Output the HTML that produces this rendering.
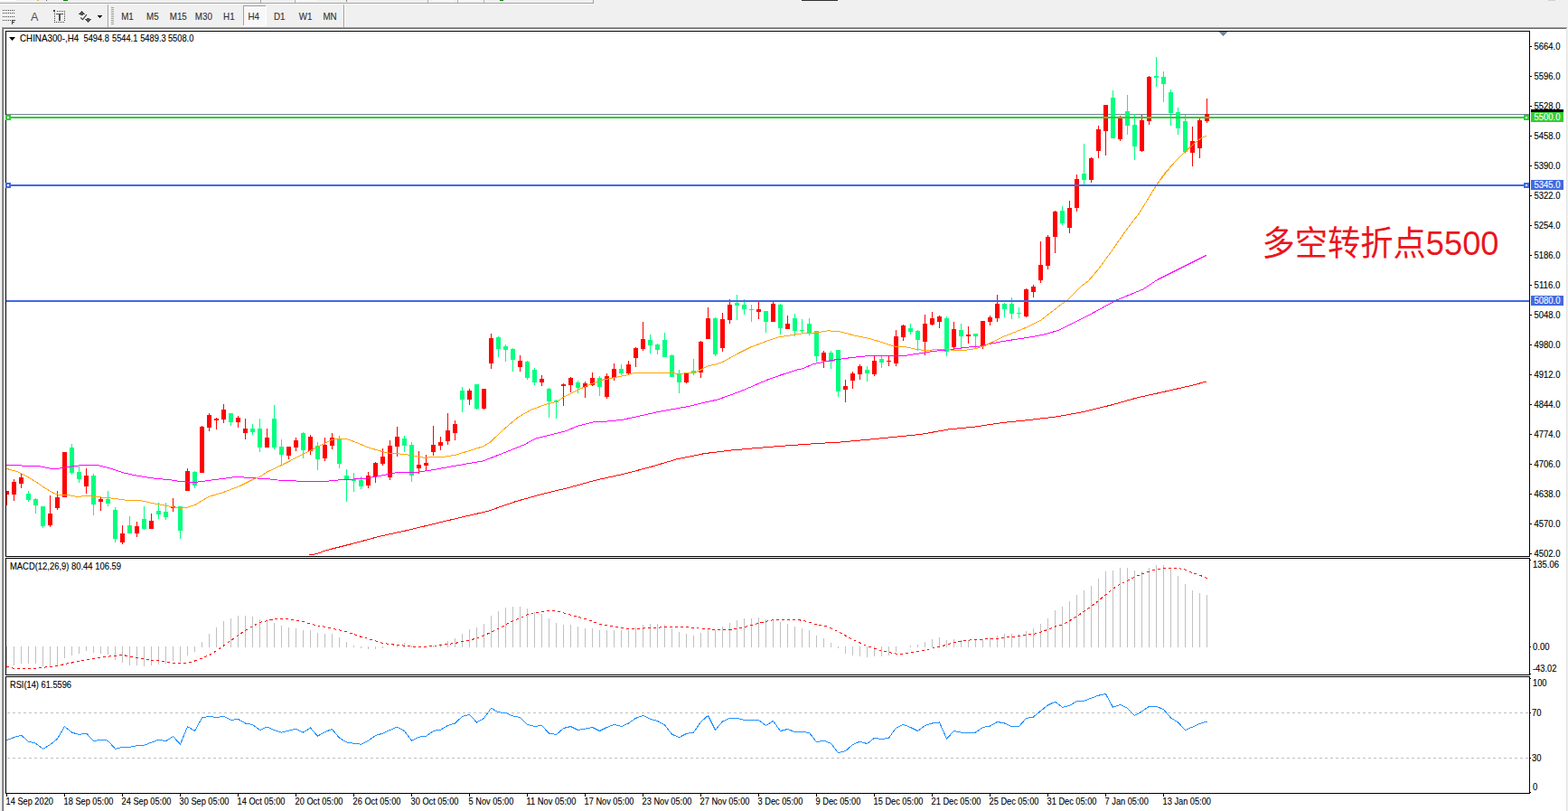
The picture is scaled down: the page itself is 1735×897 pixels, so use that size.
<!DOCTYPE html><html><head><meta charset="utf-8"><title>CHINA300-,H4</title>
<style>html,body{margin:0;padding:0;background:#fff;overflow:hidden}body{width:1735px;height:897px;position:relative;font-family:"Liberation Sans",sans-serif}svg{position:absolute;left:0;top:0;display:block}text{font-family:"Liberation Sans",sans-serif}</style></head><body>
<svg width="1735" height="897" viewBox="0 0 1735 897">
<g shape-rendering="crispEdges">
<rect x="0" y="0" width="1735" height="897" fill="#ffffff"/>
<rect x="0" y="0" width="1735" height="32" fill="#f0f0f0"/>
<rect x="0" y="32" width="2" height="865" fill="#f0f0f0"/>
<rect x="2" y="30" width="1" height="867" fill="#a0a0a0"/>
<rect x="3" y="31" width="1" height="866" fill="#696969"/>
<rect x="2" y="30" width="1732" height="1" fill="#a0a0a0"/>
<rect x="3" y="31" width="1730" height="1" fill="#696969"/>
<rect x="1733" y="31" width="1" height="866" fill="#e3e3e3"/>
<rect x="1734" y="30" width="1" height="867" fill="#f0f0f0"/>
<rect x="0" y="3" width="657" height="1" fill="#a0a0a0"/>
<rect x="0" y="4" width="656" height="1" fill="#ffffff"/>
<rect x="656" y="0" width="1" height="4" fill="#a0a0a0"/>
<rect x="0" y="0" width="18" height="1" fill="#ffffff"/>
<rect x="41" y="0" width="2" height="1" fill="#e0c040"/>
<rect x="51" y="0" width="1" height="1" fill="#606060"/>
<rect x="70" y="0" width="5" height="1" fill="#008000"/>
<rect x="288" y="0" width="1" height="3" fill="#a0a0a0"/>
<rect x="326" y="0" width="1" height="3" fill="#b0b0b0"/>
<rect x="327" y="0" width="24" height="1" fill="#fafafa"/>
<rect x="383" y="0" width="1" height="2" fill="#808080"/>
<rect x="473" y="0" width="1" height="3" fill="#b0b0b0"/>
<rect x="478" y="0" width="25" height="1" fill="#fafafa"/>
<rect x="506" y="0" width="1" height="3" fill="#b0b0b0"/>
<rect x="507" y="0" width="25" height="1" fill="#fafafa"/>
<rect x="535" y="0" width="1" height="3" fill="#b0b0b0"/>
<rect x="553" y="0" width="4" height="1" fill="#008000"/>
<rect x="887" y="0" width="40" height="1" fill="#303030"/>
<rect x="1713" y="0" width="8" height="1" fill="#d0d0d0"/>
<rect x="0" y="31" width="2" height="1" fill="#ffffff"/>
<rect x="3" y="11" width="1" height="1" fill="#404040"/>
<rect x="5" y="11" width="1" height="1" fill="#404040"/>
<rect x="7" y="11" width="1" height="1" fill="#404040"/>
<rect x="9" y="11" width="1" height="1" fill="#404040"/>
<rect x="11" y="11" width="1" height="1" fill="#404040"/>
<rect x="13" y="11" width="1" height="1" fill="#404040"/>
<rect x="15" y="11" width="1" height="1" fill="#404040"/>
<rect x="3" y="14" width="1" height="1" fill="#404040"/>
<rect x="5" y="14" width="1" height="1" fill="#404040"/>
<rect x="7" y="14" width="1" height="1" fill="#404040"/>
<rect x="9" y="14" width="1" height="1" fill="#404040"/>
<rect x="11" y="14" width="1" height="1" fill="#404040"/>
<rect x="13" y="14" width="1" height="1" fill="#404040"/>
<rect x="15" y="14" width="1" height="1" fill="#404040"/>
<rect x="3" y="18" width="1" height="1" fill="#404040"/>
<rect x="5" y="18" width="1" height="1" fill="#404040"/>
<rect x="7" y="18" width="1" height="1" fill="#404040"/>
<rect x="9" y="18" width="1" height="1" fill="#404040"/>
<rect x="11" y="18" width="1" height="1" fill="#404040"/>
<rect x="13" y="18" width="1" height="1" fill="#404040"/>
<rect x="15" y="18" width="1" height="1" fill="#404040"/>
<rect x="3" y="22" width="1" height="1" fill="#404040"/>
<rect x="5" y="22" width="1" height="1" fill="#404040"/>
<rect x="7" y="22" width="1" height="1" fill="#404040"/>
<rect x="9" y="22" width="1" height="1" fill="#404040"/>
<rect x="11" y="22" width="1" height="1" fill="#404040"/>
<rect x="13" y="22" width="1" height="5" fill="#404040"/>
<rect x="13" y="22" width="4" height="1" fill="#404040"/>
<rect x="13" y="24" width="3" height="1" fill="#404040"/>
<rect x="60" y="24" width="1" height="1" fill="#404040"/>
<rect x="62" y="24" width="1" height="1" fill="#404040"/>
<rect x="64" y="24" width="1" height="1" fill="#404040"/>
<rect x="66" y="24" width="1" height="1" fill="#404040"/>
<rect x="68" y="24" width="1" height="1" fill="#404040"/>
<rect x="70" y="24" width="1" height="1" fill="#404040"/>
<rect x="63" y="12" width="1" height="1" fill="#404040"/>
<rect x="65" y="12" width="1" height="1" fill="#404040"/>
<rect x="67" y="12" width="1" height="1" fill="#404040"/>
<rect x="69" y="12" width="1" height="1" fill="#404040"/>
<rect x="71" y="12" width="1" height="1" fill="#404040"/>
<rect x="60" y="14" width="1" height="1" fill="#404040"/>
<rect x="60" y="16" width="1" height="1" fill="#404040"/>
<rect x="60" y="18" width="1" height="1" fill="#404040"/>
<rect x="60" y="20" width="1" height="1" fill="#404040"/>
<rect x="60" y="22" width="1" height="1" fill="#404040"/>
<rect x="60" y="24" width="1" height="1" fill="#404040"/>
<rect x="71" y="14" width="1" height="1" fill="#404040"/>
<rect x="71" y="16" width="1" height="1" fill="#404040"/>
<rect x="71" y="18" width="1" height="1" fill="#404040"/>
<rect x="71" y="20" width="1" height="1" fill="#404040"/>
<rect x="71" y="22" width="1" height="1" fill="#404040"/>
<rect x="59" y="11" width="2" height="2" fill="#404040"/>
<rect x="62" y="15" width="8" height="1" fill="#505050"/>
<rect x="65" y="15" width="2" height="8" fill="#505050"/>
<rect x="90" y="12" width="1" height="1" fill="#505050"/>
<rect x="89" y="13" width="3" height="1" fill="#505050"/>
<rect x="88" y="14" width="5" height="1" fill="#505050"/>
<rect x="87" y="15" width="7" height="1" fill="#505050"/>
<rect x="89" y="16" width="3" height="1" fill="#505050"/>
<rect x="94" y="21" width="7" height="1" fill="#505050"/>
<rect x="95" y="22" width="5" height="1" fill="#505050"/>
<rect x="96" y="23" width="3" height="1" fill="#505050"/>
<rect x="97" y="24" width="1" height="1" fill="#505050"/>
<rect x="96" y="20" width="3" height="1" fill="#505050"/>
<rect x="108" y="17" width="5" height="1" fill="#000"/>
<rect x="109" y="18" width="3" height="1" fill="#000"/>
<rect x="110" y="19" width="1" height="1" fill="#000"/>
<rect x="119" y="5" width="1" height="25" fill="#a0a0a0"/>
<rect x="120" y="5" width="1" height="25" fill="#ffffff"/>
<rect x="380" y="5" width="1" height="25" fill="#a0a0a0"/>
<rect x="381" y="5" width="1" height="25" fill="#ffffff"/>
<rect x="123" y="8" width="3" height="1" fill="#a0a0a0"/>
<rect x="123" y="10" width="3" height="1" fill="#a0a0a0"/>
<rect x="123" y="12" width="3" height="1" fill="#a0a0a0"/>
<rect x="123" y="14" width="3" height="1" fill="#a0a0a0"/>
<rect x="123" y="16" width="3" height="1" fill="#a0a0a0"/>
<rect x="123" y="18" width="3" height="1" fill="#a0a0a0"/>
<rect x="123" y="20" width="3" height="1" fill="#a0a0a0"/>
<rect x="123" y="22" width="3" height="1" fill="#a0a0a0"/>
<rect x="123" y="24" width="3" height="1" fill="#a0a0a0"/>
<rect x="123" y="26" width="3" height="1" fill="#a0a0a0"/>
<rect x="270" y="7" width="24" height="21" fill="#f8f8f8"/>
<rect x="269" y="6" width="25" height="1" fill="#a0a0a0"/>
<rect x="269" y="6" width="1" height="22" fill="#a0a0a0"/>
<rect x="294" y="6" width="1" height="23" fill="#ffffff"/>
<rect x="269" y="28" width="26" height="1" fill="#ffffff"/>
</g><path d="M89.3 19.5L91.5 21.6L95.9 16.2" fill="none" stroke="#404040" stroke-width="1.1"/><text x="38.1" y="23" font-size="12.6" fill="#505050" text-anchor="middle">A</text><text x="141" y="21.9" font-size="10.2" fill="#303030" stroke="#303030" stroke-width="0.1" text-anchor="middle" textLength="13.61" lengthAdjust="spacingAndGlyphs">M1</text><text x="168.9" y="21.9" font-size="10.2" fill="#303030" stroke="#303030" stroke-width="0.1" text-anchor="middle" textLength="13.61" lengthAdjust="spacingAndGlyphs">M5</text><text x="197.3" y="21.9" font-size="10.2" fill="#303030" stroke="#303030" stroke-width="0.1" text-anchor="middle" textLength="19.06" lengthAdjust="spacingAndGlyphs">M15</text><text x="225.4" y="21.9" font-size="10.2" fill="#303030" stroke="#303030" stroke-width="0.1" text-anchor="middle" textLength="19.06" lengthAdjust="spacingAndGlyphs">M30</text><text x="253.35" y="21.9" font-size="10.2" fill="#303030" stroke="#303030" stroke-width="0.1" text-anchor="middle" textLength="12.53" lengthAdjust="spacingAndGlyphs">H1</text><text x="280.8" y="21.9" font-size="10.2" fill="#303030" stroke="#303030" stroke-width="0.1" text-anchor="middle" textLength="12.53" lengthAdjust="spacingAndGlyphs">H4</text><text x="309.3" y="21.9" font-size="10.2" fill="#303030" stroke="#303030" stroke-width="0.1" text-anchor="middle" textLength="12.53" lengthAdjust="spacingAndGlyphs">D1</text><text x="338" y="21.9" font-size="10.2" fill="#303030" stroke="#303030" stroke-width="0.1" text-anchor="middle" textLength="14.7" lengthAdjust="spacingAndGlyphs">W1</text><text x="365" y="21.9" font-size="10.2" fill="#303030" stroke="#303030" stroke-width="0.1" text-anchor="middle" textLength="15.24" lengthAdjust="spacingAndGlyphs">MN</text><g shape-rendering="crispEdges">
<rect x="6" y="34" width="1687" height="1" fill="#000"/>
<rect x="6" y="615" width="1687" height="1" fill="#000"/>
<rect x="6" y="34" width="1" height="582" fill="#000"/>
<rect x="1692" y="34" width="1" height="582" fill="#000"/>
<rect x="6" y="617" width="1687" height="1" fill="#000"/>
<rect x="6" y="746" width="1687" height="1" fill="#000"/>
<rect x="6" y="617" width="1" height="130" fill="#000"/>
<rect x="1692" y="617" width="1" height="130" fill="#000"/>
<rect x="6" y="748" width="1687" height="1" fill="#000"/>
<rect x="6" y="877" width="1687" height="1" fill="#000"/>
<rect x="6" y="748" width="1" height="130" fill="#000"/>
<rect x="1692" y="748" width="1" height="130" fill="#000"/>
<rect x="1693" y="51" width="2" height="1" fill="#000"/>
<rect x="1693" y="84" width="2" height="1" fill="#000"/>
<rect x="1693" y="117" width="2" height="1" fill="#000"/>
<rect x="1693" y="150" width="2" height="1" fill="#000"/>
<rect x="1693" y="183" width="2" height="1" fill="#000"/>
<rect x="1693" y="216" width="2" height="1" fill="#000"/>
<rect x="1693" y="249" width="2" height="1" fill="#000"/>
<rect x="1693" y="282" width="2" height="1" fill="#000"/>
<rect x="1693" y="315" width="2" height="1" fill="#000"/>
<rect x="1693" y="348" width="2" height="1" fill="#000"/>
<rect x="1693" y="381" width="2" height="1" fill="#000"/>
<rect x="1693" y="414" width="2" height="1" fill="#000"/>
<rect x="1693" y="447" width="2" height="1" fill="#000"/>
<rect x="1693" y="480" width="2" height="1" fill="#000"/>
<rect x="1693" y="513" width="2" height="1" fill="#000"/>
<rect x="1693" y="546" width="2" height="1" fill="#000"/>
<rect x="1693" y="579" width="2" height="1" fill="#000"/>
<rect x="1693" y="612" width="2" height="1" fill="#000"/>
<rect x="1693" y="619" width="1" height="1" fill="#000"/>
<rect x="1693" y="715" width="1" height="1" fill="#000"/>
<rect x="1693" y="745" width="1" height="1" fill="#000"/>
<rect x="1693" y="750" width="1" height="1" fill="#000"/>
<rect x="1693" y="788" width="1" height="1" fill="#000"/>
<rect x="1693" y="838" width="1" height="1" fill="#000"/>
<rect x="1693" y="876" width="1" height="1" fill="#000"/>
<rect x="7" y="878" width="1" height="3" fill="#000"/>
<rect x="71" y="878" width="1" height="3" fill="#000"/>
<rect x="135" y="878" width="1" height="3" fill="#000"/>
<rect x="199" y="878" width="1" height="3" fill="#000"/>
<rect x="263" y="878" width="1" height="3" fill="#000"/>
<rect x="327" y="878" width="1" height="3" fill="#000"/>
<rect x="391" y="878" width="1" height="3" fill="#000"/>
<rect x="455" y="878" width="1" height="3" fill="#000"/>
<rect x="519" y="878" width="1" height="3" fill="#000"/>
<rect x="583" y="878" width="1" height="3" fill="#000"/>
<rect x="647" y="878" width="1" height="3" fill="#000"/>
<rect x="711" y="878" width="1" height="3" fill="#000"/>
<rect x="775" y="878" width="1" height="3" fill="#000"/>
<rect x="839" y="878" width="1" height="3" fill="#000"/>
<rect x="903" y="878" width="1" height="3" fill="#000"/>
<rect x="967" y="878" width="1" height="3" fill="#000"/>
<rect x="1031" y="878" width="1" height="3" fill="#000"/>
<rect x="1095" y="878" width="1" height="3" fill="#000"/>
<rect x="1159" y="878" width="1" height="3" fill="#000"/>
<rect x="1223" y="878" width="1" height="3" fill="#000"/>
<rect x="1287" y="878" width="1" height="3" fill="#000"/>
</g>
<clipPath id="cm"><rect x="7" y="35" width="1685" height="580"/></clipPath>
<clipPath id="c2"><rect x="7" y="618" width="1685" height="128"/></clipPath>
<clipPath id="c3"><rect x="7" y="749" width="1685" height="128"/></clipPath>
<g clip-path="url(#cm)" shape-rendering="crispEdges">
<rect x="1349" y="35" width="9" height="1" fill="#778899"/>
<rect x="1350" y="36" width="7" height="1" fill="#778899"/>
<rect x="1351" y="37" width="5" height="1" fill="#778899"/>
<rect x="1352" y="38" width="3" height="1" fill="#778899"/>
<rect x="1353" y="39" width="1" height="1" fill="#778899"/>
<rect x="7" y="126" width="1685" height="1" fill="#778899"/>
<rect x="7" y="543" width="1" height="16" fill="#ff0000"/>
<rect x="5" y="543" width="5" height="4" fill="#ff0000"/>
<rect x="15" y="530" width="1" height="24" fill="#ff0000"/>
<rect x="13" y="533" width="5" height="14" fill="#ff0000"/>
<rect x="23" y="524" width="1" height="16" fill="#ff0000"/>
<rect x="21" y="528" width="5" height="7" fill="#ff0000"/>
<rect x="31" y="543" width="1" height="12" fill="#00ff7f"/>
<rect x="29" y="546" width="5" height="7" fill="#00ff7f"/>
<rect x="39" y="551" width="1" height="17" fill="#00ff7f"/>
<rect x="37" y="552" width="5" height="7" fill="#00ff7f"/>
<rect x="47" y="560" width="1" height="24" fill="#00ff7f"/>
<rect x="45" y="560" width="5" height="22" fill="#00ff7f"/>
<rect x="55" y="548" width="1" height="35" fill="#ff0000"/>
<rect x="53" y="568" width="5" height="13" fill="#ff0000"/>
<rect x="63" y="543" width="1" height="21" fill="#ff0000"/>
<rect x="61" y="550" width="5" height="12" fill="#ff0000"/>
<rect x="71" y="500" width="1" height="50" fill="#ff0000"/>
<rect x="69" y="500" width="5" height="50" fill="#ff0000"/>
<rect x="79" y="491" width="1" height="34" fill="#00ff7f"/>
<rect x="77" y="495" width="5" height="28" fill="#00ff7f"/>
<rect x="87" y="516" width="1" height="18" fill="#00ff7f"/>
<rect x="85" y="522" width="5" height="8" fill="#00ff7f"/>
<rect x="95" y="518" width="1" height="28" fill="#ff0000"/>
<rect x="93" y="526" width="5" height="12" fill="#ff0000"/>
<rect x="103" y="524" width="1" height="46" fill="#00ff7f"/>
<rect x="101" y="526" width="5" height="32" fill="#00ff7f"/>
<rect x="111" y="549" width="1" height="16" fill="#ff0000"/>
<rect x="109" y="552" width="5" height="3" fill="#ff0000"/>
<rect x="119" y="543" width="1" height="17" fill="#00ff7f"/>
<rect x="117" y="552" width="5" height="5" fill="#00ff7f"/>
<rect x="127" y="561" width="1" height="39" fill="#00ff7f"/>
<rect x="125" y="564" width="5" height="32" fill="#00ff7f"/>
<rect x="135" y="581" width="1" height="21" fill="#ff0000"/>
<rect x="133" y="590" width="5" height="10" fill="#ff0000"/>
<rect x="143" y="571" width="1" height="19" fill="#00ff7f"/>
<rect x="141" y="581" width="5" height="9" fill="#00ff7f"/>
<rect x="151" y="577" width="1" height="17" fill="#ff0000"/>
<rect x="149" y="582" width="5" height="8" fill="#ff0000"/>
<rect x="159" y="560" width="1" height="26" fill="#00ff7f"/>
<rect x="157" y="574" width="5" height="11" fill="#00ff7f"/>
<rect x="167" y="568" width="1" height="17" fill="#ff0000"/>
<rect x="165" y="576" width="5" height="9" fill="#ff0000"/>
<rect x="175" y="556" width="1" height="18" fill="#00ff7f"/>
<rect x="173" y="565" width="5" height="4" fill="#00ff7f"/>
<rect x="183" y="556" width="1" height="19" fill="#00ff7f"/>
<rect x="181" y="566" width="5" height="6" fill="#00ff7f"/>
<rect x="191" y="551" width="1" height="15" fill="#ff0000"/>
<rect x="189" y="560" width="5" height="2" fill="#ff0000"/>
<rect x="199" y="560" width="1" height="36" fill="#00ff7f"/>
<rect x="197" y="560" width="5" height="27" fill="#00ff7f"/>
<rect x="207" y="518" width="1" height="25" fill="#ff0000"/>
<rect x="205" y="521" width="5" height="22" fill="#ff0000"/>
<rect x="215" y="521" width="1" height="19" fill="#00ff7f"/>
<rect x="213" y="522" width="5" height="15" fill="#00ff7f"/>
<rect x="223" y="471" width="1" height="52" fill="#ff0000"/>
<rect x="221" y="472" width="5" height="51" fill="#ff0000"/>
<rect x="231" y="457" width="1" height="20" fill="#ff0000"/>
<rect x="229" y="459" width="5" height="14" fill="#ff0000"/>
<rect x="239" y="462" width="1" height="13" fill="#ff0000"/>
<rect x="237" y="463" width="5" height="2" fill="#ff0000"/>
<rect x="247" y="447" width="1" height="21" fill="#ff0000"/>
<rect x="245" y="453" width="5" height="11" fill="#ff0000"/>
<rect x="255" y="457" width="1" height="14" fill="#00ff7f"/>
<rect x="253" y="457" width="5" height="10" fill="#00ff7f"/>
<rect x="263" y="460" width="1" height="13" fill="#ff0000"/>
<rect x="261" y="462" width="5" height="5" fill="#ff0000"/>
<rect x="271" y="463" width="1" height="23" fill="#ff0000"/>
<rect x="269" y="474" width="5" height="5" fill="#ff0000"/>
<rect x="279" y="469" width="1" height="12" fill="#00ff7f"/>
<rect x="277" y="474" width="5" height="4" fill="#00ff7f"/>
<rect x="287" y="463" width="1" height="37" fill="#00ff7f"/>
<rect x="285" y="474" width="5" height="21" fill="#00ff7f"/>
<rect x="295" y="474" width="1" height="21" fill="#ff0000"/>
<rect x="293" y="484" width="5" height="11" fill="#ff0000"/>
<rect x="303" y="448" width="1" height="49" fill="#00ff7f"/>
<rect x="301" y="463" width="5" height="32" fill="#00ff7f"/>
<rect x="311" y="486" width="1" height="28" fill="#00ff7f"/>
<rect x="309" y="494" width="5" height="9" fill="#00ff7f"/>
<rect x="319" y="494" width="1" height="14" fill="#ff0000"/>
<rect x="317" y="494" width="5" height="10" fill="#ff0000"/>
<rect x="327" y="484" width="1" height="15" fill="#ff0000"/>
<rect x="325" y="487" width="5" height="8" fill="#ff0000"/>
<rect x="335" y="478" width="1" height="29" fill="#00ff7f"/>
<rect x="333" y="479" width="5" height="19" fill="#00ff7f"/>
<rect x="343" y="481" width="1" height="22" fill="#ff0000"/>
<rect x="341" y="483" width="5" height="16" fill="#ff0000"/>
<rect x="351" y="489" width="1" height="31" fill="#00ff7f"/>
<rect x="349" y="493" width="5" height="15" fill="#00ff7f"/>
<rect x="359" y="484" width="1" height="26" fill="#ff0000"/>
<rect x="357" y="492" width="5" height="15" fill="#ff0000"/>
<rect x="367" y="479" width="1" height="18" fill="#ff0000"/>
<rect x="365" y="484" width="5" height="9" fill="#ff0000"/>
<rect x="375" y="482" width="1" height="36" fill="#00ff7f"/>
<rect x="373" y="485" width="5" height="28" fill="#00ff7f"/>
<rect x="383" y="519" width="1" height="36" fill="#00ff7f"/>
<rect x="381" y="526" width="5" height="4" fill="#00ff7f"/>
<rect x="391" y="523" width="1" height="21" fill="#00ff7f"/>
<rect x="389" y="530" width="5" height="2" fill="#00ff7f"/>
<rect x="399" y="527" width="1" height="14" fill="#00ff7f"/>
<rect x="397" y="531" width="5" height="7" fill="#00ff7f"/>
<rect x="407" y="522" width="1" height="18" fill="#ff0000"/>
<rect x="405" y="526" width="5" height="11" fill="#ff0000"/>
<rect x="415" y="511" width="1" height="23" fill="#ff0000"/>
<rect x="413" y="512" width="5" height="15" fill="#ff0000"/>
<rect x="423" y="496" width="1" height="19" fill="#ff0000"/>
<rect x="421" y="505" width="5" height="8" fill="#ff0000"/>
<rect x="431" y="487" width="1" height="44" fill="#ff0000"/>
<rect x="429" y="493" width="5" height="35" fill="#ff0000"/>
<rect x="439" y="472" width="1" height="33" fill="#ff0000"/>
<rect x="437" y="483" width="5" height="11" fill="#ff0000"/>
<rect x="447" y="482" width="1" height="18" fill="#00ff7f"/>
<rect x="445" y="485" width="5" height="8" fill="#00ff7f"/>
<rect x="455" y="489" width="1" height="44" fill="#00ff7f"/>
<rect x="453" y="492" width="5" height="34" fill="#00ff7f"/>
<rect x="463" y="499" width="1" height="25" fill="#ff0000"/>
<rect x="461" y="514" width="5" height="4" fill="#ff0000"/>
<rect x="471" y="503" width="1" height="18" fill="#ff0000"/>
<rect x="469" y="512" width="5" height="3" fill="#ff0000"/>
<rect x="479" y="471" width="1" height="33" fill="#ff0000"/>
<rect x="477" y="492" width="5" height="8" fill="#ff0000"/>
<rect x="487" y="483" width="1" height="15" fill="#ff0000"/>
<rect x="485" y="489" width="5" height="4" fill="#ff0000"/>
<rect x="495" y="457" width="1" height="35" fill="#ff0000"/>
<rect x="493" y="476" width="5" height="12" fill="#ff0000"/>
<rect x="503" y="465" width="1" height="22" fill="#ff0000"/>
<rect x="501" y="469" width="5" height="10" fill="#ff0000"/>
<rect x="511" y="428" width="1" height="28" fill="#00ff7f"/>
<rect x="509" y="432" width="5" height="10" fill="#00ff7f"/>
<rect x="519" y="430" width="1" height="18" fill="#ff0000"/>
<rect x="517" y="432" width="5" height="10" fill="#ff0000"/>
<rect x="527" y="425" width="1" height="28" fill="#00ff7f"/>
<rect x="525" y="425" width="5" height="27" fill="#00ff7f"/>
<rect x="535" y="430" width="1" height="23" fill="#ff0000"/>
<rect x="533" y="430" width="5" height="22" fill="#ff0000"/>
<rect x="543" y="369" width="1" height="39" fill="#ff0000"/>
<rect x="541" y="374" width="5" height="28" fill="#ff0000"/>
<rect x="551" y="372" width="1" height="23" fill="#00ff7f"/>
<rect x="549" y="373" width="5" height="13" fill="#00ff7f"/>
<rect x="559" y="381" width="1" height="19" fill="#00ff7f"/>
<rect x="557" y="383" width="5" height="4" fill="#00ff7f"/>
<rect x="567" y="385" width="1" height="26" fill="#00ff7f"/>
<rect x="565" y="386" width="5" height="12" fill="#00ff7f"/>
<rect x="575" y="393" width="1" height="18" fill="#ff0000"/>
<rect x="573" y="399" width="5" height="7" fill="#ff0000"/>
<rect x="583" y="399" width="1" height="21" fill="#00ff7f"/>
<rect x="581" y="400" width="5" height="18" fill="#00ff7f"/>
<rect x="591" y="407" width="1" height="19" fill="#00ff7f"/>
<rect x="589" y="409" width="5" height="14" fill="#00ff7f"/>
<rect x="599" y="415" width="1" height="12" fill="#ff0000"/>
<rect x="597" y="419" width="5" height="4" fill="#ff0000"/>
<rect x="607" y="429" width="1" height="33" fill="#00ff7f"/>
<rect x="605" y="430" width="5" height="14" fill="#00ff7f"/>
<rect x="615" y="442" width="1" height="21" fill="#00ff7f"/>
<rect x="613" y="443" width="5" height="2" fill="#00ff7f"/>
<rect x="623" y="424" width="1" height="25" fill="#ff0000"/>
<rect x="621" y="425" width="5" height="2" fill="#ff0000"/>
<rect x="631" y="417" width="1" height="17" fill="#ff0000"/>
<rect x="629" y="418" width="5" height="8" fill="#ff0000"/>
<rect x="639" y="421" width="1" height="14" fill="#00ff7f"/>
<rect x="637" y="423" width="5" height="6" fill="#00ff7f"/>
<rect x="647" y="422" width="1" height="18" fill="#ff0000"/>
<rect x="645" y="424" width="5" height="4" fill="#ff0000"/>
<rect x="655" y="412" width="1" height="15" fill="#ff0000"/>
<rect x="653" y="418" width="5" height="8" fill="#ff0000"/>
<rect x="663" y="416" width="1" height="22" fill="#00ff7f"/>
<rect x="661" y="418" width="5" height="10" fill="#00ff7f"/>
<rect x="671" y="413" width="1" height="28" fill="#ff0000"/>
<rect x="669" y="416" width="5" height="23" fill="#ff0000"/>
<rect x="679" y="402" width="1" height="19" fill="#ff0000"/>
<rect x="677" y="408" width="5" height="10" fill="#ff0000"/>
<rect x="687" y="403" width="1" height="12" fill="#00ff7f"/>
<rect x="685" y="408" width="5" height="5" fill="#00ff7f"/>
<rect x="695" y="399" width="1" height="16" fill="#ff0000"/>
<rect x="693" y="403" width="5" height="10" fill="#ff0000"/>
<rect x="703" y="384" width="1" height="22" fill="#ff0000"/>
<rect x="701" y="385" width="5" height="11" fill="#ff0000"/>
<rect x="711" y="356" width="1" height="32" fill="#ff0000"/>
<rect x="709" y="375" width="5" height="11" fill="#ff0000"/>
<rect x="719" y="370" width="1" height="21" fill="#00ff7f"/>
<rect x="717" y="376" width="5" height="6" fill="#00ff7f"/>
<rect x="727" y="380" width="1" height="12" fill="#00ff7f"/>
<rect x="725" y="381" width="5" height="6" fill="#00ff7f"/>
<rect x="735" y="368" width="1" height="27" fill="#00ff7f"/>
<rect x="733" y="376" width="5" height="19" fill="#00ff7f"/>
<rect x="743" y="392" width="1" height="25" fill="#00ff7f"/>
<rect x="741" y="393" width="5" height="24" fill="#00ff7f"/>
<rect x="751" y="409" width="1" height="26" fill="#00ff7f"/>
<rect x="749" y="413" width="5" height="10" fill="#00ff7f"/>
<rect x="759" y="413" width="1" height="11" fill="#ff0000"/>
<rect x="757" y="413" width="5" height="10" fill="#ff0000"/>
<rect x="767" y="397" width="1" height="18" fill="#00ff7f"/>
<rect x="765" y="410" width="5" height="3" fill="#00ff7f"/>
<rect x="775" y="377" width="1" height="41" fill="#ff0000"/>
<rect x="773" y="378" width="5" height="34" fill="#ff0000"/>
<rect x="783" y="340" width="1" height="35" fill="#ff0000"/>
<rect x="781" y="352" width="5" height="23" fill="#ff0000"/>
<rect x="791" y="351" width="1" height="43" fill="#00ff7f"/>
<rect x="789" y="352" width="5" height="40" fill="#00ff7f"/>
<rect x="799" y="346" width="1" height="43" fill="#ff0000"/>
<rect x="797" y="353" width="5" height="32" fill="#ff0000"/>
<rect x="807" y="331" width="1" height="27" fill="#ff0000"/>
<rect x="805" y="337" width="5" height="17" fill="#ff0000"/>
<rect x="815" y="326" width="1" height="28" fill="#00ff7f"/>
<rect x="813" y="335" width="5" height="3" fill="#00ff7f"/>
<rect x="823" y="331" width="1" height="17" fill="#00ff7f"/>
<rect x="821" y="337" width="5" height="5" fill="#00ff7f"/>
<rect x="831" y="337" width="1" height="19" fill="#00ff7f"/>
<rect x="829" y="342" width="5" height="1" fill="#00ff7f"/>
<rect x="839" y="334" width="1" height="19" fill="#ff0000"/>
<rect x="837" y="342" width="5" height="3" fill="#ff0000"/>
<rect x="847" y="344" width="1" height="24" fill="#00ff7f"/>
<rect x="845" y="344" width="5" height="12" fill="#00ff7f"/>
<rect x="855" y="334" width="1" height="22" fill="#ff0000"/>
<rect x="853" y="336" width="5" height="20" fill="#ff0000"/>
<rect x="863" y="336" width="1" height="34" fill="#00ff7f"/>
<rect x="861" y="337" width="5" height="26" fill="#00ff7f"/>
<rect x="871" y="349" width="1" height="15" fill="#ff0000"/>
<rect x="869" y="358" width="5" height="6" fill="#ff0000"/>
<rect x="879" y="347" width="1" height="25" fill="#00ff7f"/>
<rect x="877" y="352" width="5" height="14" fill="#00ff7f"/>
<rect x="887" y="353" width="1" height="15" fill="#00ff7f"/>
<rect x="885" y="365" width="5" height="1" fill="#00ff7f"/>
<rect x="895" y="352" width="1" height="19" fill="#00ff7f"/>
<rect x="893" y="358" width="5" height="10" fill="#00ff7f"/>
<rect x="903" y="366" width="1" height="34" fill="#00ff7f"/>
<rect x="901" y="366" width="5" height="28" fill="#00ff7f"/>
<rect x="911" y="388" width="1" height="19" fill="#ff0000"/>
<rect x="909" y="390" width="5" height="9" fill="#ff0000"/>
<rect x="919" y="388" width="1" height="20" fill="#00ff7f"/>
<rect x="917" y="390" width="5" height="10" fill="#00ff7f"/>
<rect x="927" y="387" width="1" height="52" fill="#00ff7f"/>
<rect x="925" y="387" width="5" height="46" fill="#00ff7f"/>
<rect x="935" y="420" width="1" height="25" fill="#ff0000"/>
<rect x="933" y="427" width="5" height="4" fill="#ff0000"/>
<rect x="943" y="411" width="1" height="19" fill="#ff0000"/>
<rect x="941" y="413" width="5" height="8" fill="#ff0000"/>
<rect x="951" y="403" width="1" height="17" fill="#ff0000"/>
<rect x="949" y="405" width="5" height="9" fill="#ff0000"/>
<rect x="959" y="405" width="1" height="17" fill="#00ff7f"/>
<rect x="957" y="409" width="5" height="4" fill="#00ff7f"/>
<rect x="967" y="394" width="1" height="22" fill="#ff0000"/>
<rect x="965" y="399" width="5" height="15" fill="#ff0000"/>
<rect x="975" y="394" width="1" height="13" fill="#00ff7f"/>
<rect x="973" y="397" width="5" height="4" fill="#00ff7f"/>
<rect x="983" y="394" width="1" height="11" fill="#ff0000"/>
<rect x="981" y="399" width="5" height="1" fill="#ff0000"/>
<rect x="991" y="365" width="1" height="40" fill="#ff0000"/>
<rect x="989" y="372" width="5" height="30" fill="#ff0000"/>
<rect x="999" y="359" width="1" height="18" fill="#ff0000"/>
<rect x="997" y="360" width="5" height="13" fill="#ff0000"/>
<rect x="1007" y="358" width="1" height="12" fill="#00ff7f"/>
<rect x="1005" y="363" width="5" height="4" fill="#00ff7f"/>
<rect x="1015" y="365" width="1" height="23" fill="#00ff7f"/>
<rect x="1013" y="366" width="5" height="10" fill="#00ff7f"/>
<rect x="1023" y="348" width="1" height="45" fill="#ff0000"/>
<rect x="1021" y="358" width="5" height="20" fill="#ff0000"/>
<rect x="1031" y="345" width="1" height="15" fill="#ff0000"/>
<rect x="1029" y="352" width="5" height="7" fill="#ff0000"/>
<rect x="1039" y="349" width="1" height="14" fill="#ff0000"/>
<rect x="1037" y="350" width="5" height="6" fill="#ff0000"/>
<rect x="1047" y="350" width="1" height="44" fill="#00ff7f"/>
<rect x="1045" y="352" width="5" height="37" fill="#00ff7f"/>
<rect x="1055" y="356" width="1" height="31" fill="#ff0000"/>
<rect x="1053" y="364" width="5" height="20" fill="#ff0000"/>
<rect x="1063" y="358" width="1" height="28" fill="#00ff7f"/>
<rect x="1061" y="365" width="5" height="7" fill="#00ff7f"/>
<rect x="1071" y="361" width="1" height="19" fill="#ff0000"/>
<rect x="1069" y="370" width="5" height="2" fill="#ff0000"/>
<rect x="1079" y="369" width="1" height="16" fill="#00ff7f"/>
<rect x="1077" y="369" width="5" height="3" fill="#00ff7f"/>
<rect x="1087" y="355" width="1" height="31" fill="#ff0000"/>
<rect x="1085" y="355" width="5" height="27" fill="#ff0000"/>
<rect x="1095" y="349" width="1" height="11" fill="#ff0000"/>
<rect x="1093" y="351" width="5" height="5" fill="#ff0000"/>
<rect x="1103" y="326" width="1" height="30" fill="#ff0000"/>
<rect x="1101" y="336" width="5" height="16" fill="#ff0000"/>
<rect x="1111" y="335" width="1" height="16" fill="#00ff7f"/>
<rect x="1109" y="336" width="5" height="6" fill="#00ff7f"/>
<rect x="1119" y="329" width="1" height="24" fill="#00ff7f"/>
<rect x="1117" y="336" width="5" height="11" fill="#00ff7f"/>
<rect x="1127" y="340" width="1" height="12" fill="#00ff7f"/>
<rect x="1125" y="346" width="5" height="1" fill="#00ff7f"/>
<rect x="1135" y="319" width="1" height="32" fill="#ff0000"/>
<rect x="1133" y="320" width="5" height="30" fill="#ff0000"/>
<rect x="1143" y="315" width="1" height="14" fill="#ff0000"/>
<rect x="1141" y="317" width="5" height="6" fill="#ff0000"/>
<rect x="1151" y="267" width="1" height="46" fill="#ff0000"/>
<rect x="1149" y="293" width="5" height="17" fill="#ff0000"/>
<rect x="1159" y="260" width="1" height="38" fill="#ff0000"/>
<rect x="1157" y="262" width="5" height="32" fill="#ff0000"/>
<rect x="1167" y="233" width="1" height="47" fill="#ff0000"/>
<rect x="1165" y="234" width="5" height="28" fill="#ff0000"/>
<rect x="1175" y="228" width="1" height="21" fill="#00ff7f"/>
<rect x="1173" y="233" width="5" height="14" fill="#00ff7f"/>
<rect x="1183" y="222" width="1" height="36" fill="#ff0000"/>
<rect x="1181" y="230" width="5" height="22" fill="#ff0000"/>
<rect x="1191" y="193" width="1" height="41" fill="#ff0000"/>
<rect x="1189" y="198" width="5" height="32" fill="#ff0000"/>
<rect x="1199" y="159" width="1" height="45" fill="#00ff7f"/>
<rect x="1197" y="192" width="5" height="7" fill="#00ff7f"/>
<rect x="1207" y="174" width="1" height="28" fill="#ff0000"/>
<rect x="1205" y="175" width="5" height="24" fill="#ff0000"/>
<rect x="1215" y="139" width="1" height="36" fill="#ff0000"/>
<rect x="1213" y="143" width="5" height="24" fill="#ff0000"/>
<rect x="1223" y="116" width="1" height="56" fill="#ff0000"/>
<rect x="1221" y="116" width="5" height="29" fill="#ff0000"/>
<rect x="1231" y="100" width="1" height="53" fill="#00ff7f"/>
<rect x="1229" y="108" width="5" height="45" fill="#00ff7f"/>
<rect x="1239" y="128" width="1" height="28" fill="#ff0000"/>
<rect x="1237" y="130" width="5" height="24" fill="#ff0000"/>
<rect x="1247" y="105" width="1" height="44" fill="#00ff7f"/>
<rect x="1245" y="123" width="5" height="16" fill="#00ff7f"/>
<rect x="1255" y="126" width="1" height="51" fill="#00ff7f"/>
<rect x="1253" y="138" width="5" height="24" fill="#00ff7f"/>
<rect x="1263" y="127" width="1" height="41" fill="#ff0000"/>
<rect x="1261" y="133" width="5" height="34" fill="#ff0000"/>
<rect x="1271" y="84" width="1" height="54" fill="#ff0000"/>
<rect x="1269" y="85" width="5" height="49" fill="#ff0000"/>
<rect x="1279" y="63" width="1" height="33" fill="#00ff7f"/>
<rect x="1277" y="84" width="5" height="2" fill="#00ff7f"/>
<rect x="1287" y="79" width="1" height="34" fill="#00ff7f"/>
<rect x="1285" y="85" width="5" height="8" fill="#00ff7f"/>
<rect x="1295" y="99" width="1" height="40" fill="#00ff7f"/>
<rect x="1293" y="102" width="5" height="23" fill="#00ff7f"/>
<rect x="1303" y="119" width="1" height="30" fill="#00ff7f"/>
<rect x="1301" y="124" width="5" height="18" fill="#00ff7f"/>
<rect x="1311" y="127" width="1" height="43" fill="#00ff7f"/>
<rect x="1309" y="134" width="5" height="34" fill="#00ff7f"/>
<rect x="1319" y="140" width="1" height="44" fill="#ff0000"/>
<rect x="1317" y="156" width="5" height="13" fill="#ff0000"/>
<rect x="1327" y="131" width="1" height="44" fill="#ff0000"/>
<rect x="1325" y="133" width="5" height="31" fill="#ff0000"/>
<rect x="1335" y="109" width="1" height="27" fill="#ff0000"/>
<rect x="1333" y="126" width="5" height="8" fill="#ff0000"/>
<polyline points="342.0,614.0 351.0,612.5 360.0,608.9 389.9,601.4 419.9,593.3 449.9,586.7 479.9,579.5 509.8,572.3 539.8,565.4 569.8,554.9 599.7,546.5 629.7,539.3 659.7,531.0 689.7,524.4 719.6,516.6 749.6,507.6 779.6,501.6 809.5,498.0 840.0,495.3 870.0,492.9 899.9,490.8 929.9,489.0 959.9,486.3 989.9,483.3 1019.8,480.3 1049.8,474.9 1079.8,471.9 1109.7,467.4 1139.7,464.4 1169.7,460.8 1199.7,455.4 1229.6,448.0 1259.6,439.6 1289.6,433.0 1319.5,426.1 1334.5,422.2" fill="none" stroke="#ff0000" stroke-width="1"/>
<polyline points="6.8,514.3 28.4,515.2 43.6,515.8 56.9,518.3 64.4,518.3 75.8,516.4 92.9,514.3 107.1,514.3 121.3,517.7 136.4,522.8 151.6,526.2 170.6,529.1 189.5,531.0 200.9,532.9 217.9,533.2 236.9,530.6 261.5,527.5 280.5,528.7 296.0,529.7 307.4,531.0 332.0,532.2 362.3,532.2 381.3,530.3 402.1,529.7 417.3,526.9 436.2,523.1 447.6,522.1 462.8,522.1 477.9,519.9 504.5,515.1 534.8,509.8 561.3,499.4 580.3,491.8 592.0,485.3 612.8,480.0 626.1,476.8 639.4,471.1 656.4,466.9 675.4,465.8 690.5,463.9 709.5,459.7 728.4,455.5 747.4,452.1 762.6,449.3 777.7,445.5 792.9,442.3 808.0,437.0 823.2,431.3 838.4,424.6 853.5,418.4 868.7,413.3 883.8,408.5 888.0,407.9 899.4,402.9 912.6,399.9 925.9,397.6 944.9,395.2 963.8,393.3 982.8,393.3 1001.7,393.3 1016.9,391.0 1032.0,388.5 1051.0,386.6 1069.9,384.2 1085.1,382.9 1096.5,380.0 1111.6,377.2 1126.8,374.9 1141.9,372.6 1157.1,369.6 1172.3,364.9 1188.0,356.9 1202.3,350.0 1230.8,334.4 1236.4,331.6 1264.9,319.9 1280.0,309.8 1306.6,296.5 1335.0,282.3" fill="none" stroke="#ff00ff" stroke-width="1"/>
<polyline points="6.8,518.3 19.0,521.5 28.4,526.2 39.8,532.9 49.3,539.5 58.7,545.2 65.4,547.6 75.8,547.6 85.3,549.5 94.8,548.4 106.1,549.5 123.2,551.0 140.2,553.3 155.4,553.7 170.6,556.9 181.9,559.0 191.4,560.9 200.9,562.2 208.5,560.9 216.0,558.4 223.6,553.7 231.2,549.3 246.4,544.8 265.3,537.6 280.5,530.0 288.0,527.2 295.6,521.9 296.0,521.7 313.1,513.8 328.2,506.0 343.4,498.4 356.6,491.8 368.0,486.1 373.7,485.2 383.2,485.2 394.5,489.5 405.9,494.3 417.3,497.9 428.7,500.9 440.0,501.8 453.3,503.2 462.8,505.1 470.3,506.4 477.9,505.5 489.3,505.5 504.5,503.2 519.6,498.4 534.8,493.7 542.4,489.0 557.5,474.8 572.7,461.9 587.8,453.0 592.0,451.7 605.3,446.8 616.6,444.2 624.2,438.9 639.4,431.3 654.5,424.6 667.8,419.9 683.0,417.1 694.3,414.8 701.9,412.5 724.7,412.5 743.6,412.5 751.2,413.8 758.8,412.5 768.2,412.5 775.8,408.9 783.4,404.8 792.9,402.9 800.5,400.0 815.6,391.5 830.8,383.9 845.9,378.2 861.1,372.9 876.3,370.6 888.0,368.8 903.2,367.9 916.4,365.8 929.7,366.9 944.9,370.9 963.8,374.9 977.1,379.1 988.4,382.9 1001.7,383.6 1013.1,386.3 1024.4,387.6 1035.8,386.6 1047.2,386.6 1058.6,387.6 1069.9,387.0 1079.4,385.7 1088.9,382.9 1098.3,378.1 1111.6,371.9 1126.8,365.8 1138.1,361.1 1151.4,354.4 1164.7,344.0 1176.0,335.5 1181.5,331.6 1196.6,316.4 1204.2,310.8 1215.6,297.5 1230.8,276.6 1245.9,254.9 1261.1,235.0 1276.2,210.3 1287.6,193.3 1299.0,180.0 1280.0,203.9 1287.6,193.5 1299.0,180.2 1310.3,168.9 1321.7,158.4 1329.3,152.8 1335.0,149.9" fill="none" stroke="#ffa500" stroke-width="1"/>
<rect x="7" y="129" width="1685" height="2" fill="#32cd32"/>
<rect x="7" y="204" width="1685" height="2" fill="#4169e1"/>
<rect x="7" y="332" width="1685" height="2" fill="#4169e1"/>
</g>
<g shape-rendering="crispEdges">
<rect x="6" y="127" width="6" height="6" fill="#32cd32"/>
<rect x="8" y="129" width="2" height="2" fill="#fff"/>
<rect x="1686" y="127" width="6" height="6" fill="#32cd32"/>
<rect x="1688" y="129" width="2" height="2" fill="#fff"/>
<rect x="6" y="202" width="6" height="6" fill="#4169e1"/>
<rect x="8" y="204" width="2" height="2" fill="#fff"/>
<rect x="1686" y="202" width="6" height="6" fill="#4169e1"/>
<rect x="1688" y="204" width="2" height="2" fill="#fff"/>
<rect x="1694" y="121" width="36" height="11" fill="#000"/>
<rect x="1694" y="124" width="36" height="11" fill="#32cd32"/>
<rect x="1694" y="199" width="36" height="11" fill="#4169e1"/>
<rect x="1694" y="327" width="36" height="11" fill="#4169e1"/>
</g>
<g clip-path="url(#c2)" shape-rendering="crispEdges">
<rect x="7" y="715" width="1" height="24" fill="#c0c0c0"/>
<rect x="15" y="715" width="1" height="21" fill="#c0c0c0"/>
<rect x="23" y="715" width="1" height="19" fill="#c0c0c0"/>
<rect x="31" y="715" width="1" height="19" fill="#c0c0c0"/>
<rect x="39" y="715" width="1" height="19" fill="#c0c0c0"/>
<rect x="47" y="715" width="1" height="22" fill="#c0c0c0"/>
<rect x="55" y="715" width="1" height="23" fill="#c0c0c0"/>
<rect x="63" y="715" width="1" height="21" fill="#c0c0c0"/>
<rect x="71" y="715" width="1" height="13" fill="#c0c0c0"/>
<rect x="79" y="715" width="1" height="10" fill="#c0c0c0"/>
<rect x="87" y="715" width="1" height="8" fill="#c0c0c0"/>
<rect x="95" y="715" width="1" height="5" fill="#c0c0c0"/>
<rect x="103" y="715" width="1" height="7" fill="#c0c0c0"/>
<rect x="111" y="715" width="1" height="8" fill="#c0c0c0"/>
<rect x="119" y="715" width="1" height="9" fill="#c0c0c0"/>
<rect x="127" y="715" width="1" height="15" fill="#c0c0c0"/>
<rect x="135" y="715" width="1" height="18" fill="#c0c0c0"/>
<rect x="143" y="715" width="1" height="21" fill="#c0c0c0"/>
<rect x="151" y="715" width="1" height="21" fill="#c0c0c0"/>
<rect x="159" y="715" width="1" height="22" fill="#c0c0c0"/>
<rect x="167" y="715" width="1" height="21" fill="#c0c0c0"/>
<rect x="175" y="715" width="1" height="20" fill="#c0c0c0"/>
<rect x="183" y="715" width="1" height="19" fill="#c0c0c0"/>
<rect x="191" y="715" width="1" height="16" fill="#c0c0c0"/>
<rect x="199" y="715" width="1" height="17" fill="#c0c0c0"/>
<rect x="207" y="715" width="1" height="10" fill="#c0c0c0"/>
<rect x="215" y="715" width="1" height="6" fill="#c0c0c0"/>
<rect x="223" y="710" width="1" height="6" fill="#c0c0c0"/>
<rect x="231" y="701" width="1" height="15" fill="#c0c0c0"/>
<rect x="239" y="694" width="1" height="22" fill="#c0c0c0"/>
<rect x="247" y="687" width="1" height="29" fill="#c0c0c0"/>
<rect x="255" y="684" width="1" height="32" fill="#c0c0c0"/>
<rect x="263" y="681" width="1" height="35" fill="#c0c0c0"/>
<rect x="271" y="681" width="1" height="35" fill="#c0c0c0"/>
<rect x="279" y="682" width="1" height="34" fill="#c0c0c0"/>
<rect x="287" y="685" width="1" height="31" fill="#c0c0c0"/>
<rect x="295" y="686" width="1" height="30" fill="#c0c0c0"/>
<rect x="303" y="689" width="1" height="27" fill="#c0c0c0"/>
<rect x="311" y="692" width="1" height="24" fill="#c0c0c0"/>
<rect x="319" y="694" width="1" height="22" fill="#c0c0c0"/>
<rect x="327" y="695" width="1" height="21" fill="#c0c0c0"/>
<rect x="335" y="697" width="1" height="19" fill="#c0c0c0"/>
<rect x="343" y="697" width="1" height="19" fill="#c0c0c0"/>
<rect x="351" y="700" width="1" height="16" fill="#c0c0c0"/>
<rect x="359" y="701" width="1" height="15" fill="#c0c0c0"/>
<rect x="367" y="701" width="1" height="15" fill="#c0c0c0"/>
<rect x="375" y="705" width="1" height="11" fill="#c0c0c0"/>
<rect x="383" y="710" width="1" height="6" fill="#c0c0c0"/>
<rect x="391" y="714" width="1" height="2" fill="#c0c0c0"/>
<rect x="399" y="715" width="1" height="2" fill="#c0c0c0"/>
<rect x="407" y="715" width="1" height="3" fill="#c0c0c0"/>
<rect x="415" y="715" width="1" height="3" fill="#c0c0c0"/>
<rect x="423" y="715" width="1" height="2" fill="#c0c0c0"/>
<rect x="439" y="713" width="1" height="3" fill="#c0c0c0"/>
<rect x="447" y="711" width="1" height="5" fill="#c0c0c0"/>
<rect x="455" y="714" width="1" height="2" fill="#c0c0c0"/>
<rect x="479" y="714" width="1" height="2" fill="#c0c0c0"/>
<rect x="487" y="712" width="1" height="4" fill="#c0c0c0"/>
<rect x="495" y="709" width="1" height="7" fill="#c0c0c0"/>
<rect x="503" y="706" width="1" height="10" fill="#c0c0c0"/>
<rect x="511" y="701" width="1" height="15" fill="#c0c0c0"/>
<rect x="519" y="696" width="1" height="20" fill="#c0c0c0"/>
<rect x="527" y="694" width="1" height="22" fill="#c0c0c0"/>
<rect x="535" y="690" width="1" height="26" fill="#c0c0c0"/>
<rect x="543" y="681" width="1" height="35" fill="#c0c0c0"/>
<rect x="551" y="676" width="1" height="40" fill="#c0c0c0"/>
<rect x="559" y="672" width="1" height="44" fill="#c0c0c0"/>
<rect x="567" y="671" width="1" height="45" fill="#c0c0c0"/>
<rect x="575" y="671" width="1" height="45" fill="#c0c0c0"/>
<rect x="583" y="673" width="1" height="43" fill="#c0c0c0"/>
<rect x="591" y="677" width="1" height="39" fill="#c0c0c0"/>
<rect x="599" y="679" width="1" height="37" fill="#c0c0c0"/>
<rect x="607" y="684" width="1" height="32" fill="#c0c0c0"/>
<rect x="615" y="689" width="1" height="27" fill="#c0c0c0"/>
<rect x="623" y="691" width="1" height="25" fill="#c0c0c0"/>
<rect x="631" y="691" width="1" height="25" fill="#c0c0c0"/>
<rect x="639" y="693" width="1" height="23" fill="#c0c0c0"/>
<rect x="647" y="695" width="1" height="21" fill="#c0c0c0"/>
<rect x="655" y="695" width="1" height="21" fill="#c0c0c0"/>
<rect x="663" y="697" width="1" height="19" fill="#c0c0c0"/>
<rect x="671" y="697" width="1" height="19" fill="#c0c0c0"/>
<rect x="679" y="697" width="1" height="19" fill="#c0c0c0"/>
<rect x="687" y="697" width="1" height="19" fill="#c0c0c0"/>
<rect x="695" y="697" width="1" height="19" fill="#c0c0c0"/>
<rect x="703" y="694" width="1" height="22" fill="#c0c0c0"/>
<rect x="711" y="691" width="1" height="25" fill="#c0c0c0"/>
<rect x="719" y="690" width="1" height="26" fill="#c0c0c0"/>
<rect x="727" y="690" width="1" height="26" fill="#c0c0c0"/>
<rect x="735" y="691" width="1" height="25" fill="#c0c0c0"/>
<rect x="743" y="695" width="1" height="21" fill="#c0c0c0"/>
<rect x="751" y="699" width="1" height="17" fill="#c0c0c0"/>
<rect x="759" y="701" width="1" height="15" fill="#c0c0c0"/>
<rect x="767" y="703" width="1" height="13" fill="#c0c0c0"/>
<rect x="775" y="700" width="1" height="16" fill="#c0c0c0"/>
<rect x="783" y="696" width="1" height="20" fill="#c0c0c0"/>
<rect x="791" y="697" width="1" height="19" fill="#c0c0c0"/>
<rect x="799" y="693" width="1" height="23" fill="#c0c0c0"/>
<rect x="807" y="689" width="1" height="27" fill="#c0c0c0"/>
<rect x="815" y="686" width="1" height="30" fill="#c0c0c0"/>
<rect x="823" y="684" width="1" height="32" fill="#c0c0c0"/>
<rect x="831" y="684" width="1" height="32" fill="#c0c0c0"/>
<rect x="839" y="683" width="1" height="33" fill="#c0c0c0"/>
<rect x="847" y="685" width="1" height="31" fill="#c0c0c0"/>
<rect x="855" y="686" width="1" height="30" fill="#c0c0c0"/>
<rect x="863" y="688" width="1" height="28" fill="#c0c0c0"/>
<rect x="871" y="690" width="1" height="26" fill="#c0c0c0"/>
<rect x="879" y="693" width="1" height="23" fill="#c0c0c0"/>
<rect x="887" y="695" width="1" height="21" fill="#c0c0c0"/>
<rect x="895" y="697" width="1" height="19" fill="#c0c0c0"/>
<rect x="903" y="703" width="1" height="13" fill="#c0c0c0"/>
<rect x="911" y="706" width="1" height="10" fill="#c0c0c0"/>
<rect x="919" y="711" width="1" height="5" fill="#c0c0c0"/>
<rect x="927" y="715" width="1" height="2" fill="#c0c0c0"/>
<rect x="935" y="715" width="1" height="8" fill="#c0c0c0"/>
<rect x="943" y="715" width="1" height="10" fill="#c0c0c0"/>
<rect x="951" y="715" width="1" height="11" fill="#c0c0c0"/>
<rect x="959" y="715" width="1" height="12" fill="#c0c0c0"/>
<rect x="967" y="715" width="1" height="11" fill="#c0c0c0"/>
<rect x="975" y="715" width="1" height="11" fill="#c0c0c0"/>
<rect x="983" y="715" width="1" height="10" fill="#c0c0c0"/>
<rect x="991" y="715" width="1" height="6" fill="#c0c0c0"/>
<rect x="1007" y="714" width="1" height="2" fill="#c0c0c0"/>
<rect x="1015" y="713" width="1" height="3" fill="#c0c0c0"/>
<rect x="1023" y="710" width="1" height="6" fill="#c0c0c0"/>
<rect x="1031" y="707" width="1" height="9" fill="#c0c0c0"/>
<rect x="1039" y="705" width="1" height="11" fill="#c0c0c0"/>
<rect x="1047" y="708" width="1" height="8" fill="#c0c0c0"/>
<rect x="1055" y="707" width="1" height="9" fill="#c0c0c0"/>
<rect x="1063" y="708" width="1" height="8" fill="#c0c0c0"/>
<rect x="1071" y="708" width="1" height="8" fill="#c0c0c0"/>
<rect x="1079" y="708" width="1" height="8" fill="#c0c0c0"/>
<rect x="1087" y="707" width="1" height="9" fill="#c0c0c0"/>
<rect x="1095" y="705" width="1" height="11" fill="#c0c0c0"/>
<rect x="1103" y="703" width="1" height="13" fill="#c0c0c0"/>
<rect x="1111" y="701" width="1" height="15" fill="#c0c0c0"/>
<rect x="1119" y="701" width="1" height="15" fill="#c0c0c0"/>
<rect x="1127" y="701" width="1" height="15" fill="#c0c0c0"/>
<rect x="1135" y="698" width="1" height="18" fill="#c0c0c0"/>
<rect x="1143" y="695" width="1" height="21" fill="#c0c0c0"/>
<rect x="1151" y="690" width="1" height="26" fill="#c0c0c0"/>
<rect x="1159" y="684" width="1" height="32" fill="#c0c0c0"/>
<rect x="1167" y="675" width="1" height="41" fill="#c0c0c0"/>
<rect x="1175" y="671" width="1" height="45" fill="#c0c0c0"/>
<rect x="1183" y="665" width="1" height="51" fill="#c0c0c0"/>
<rect x="1191" y="658" width="1" height="58" fill="#c0c0c0"/>
<rect x="1199" y="653" width="1" height="63" fill="#c0c0c0"/>
<rect x="1207" y="648" width="1" height="68" fill="#c0c0c0"/>
<rect x="1215" y="640" width="1" height="76" fill="#c0c0c0"/>
<rect x="1223" y="632" width="1" height="84" fill="#c0c0c0"/>
<rect x="1231" y="631" width="1" height="85" fill="#c0c0c0"/>
<rect x="1239" y="628" width="1" height="88" fill="#c0c0c0"/>
<rect x="1247" y="628" width="1" height="88" fill="#c0c0c0"/>
<rect x="1255" y="631" width="1" height="85" fill="#c0c0c0"/>
<rect x="1263" y="632" width="1" height="84" fill="#c0c0c0"/>
<rect x="1271" y="628" width="1" height="88" fill="#c0c0c0"/>
<rect x="1279" y="625" width="1" height="91" fill="#c0c0c0"/>
<rect x="1287" y="625" width="1" height="91" fill="#c0c0c0"/>
<rect x="1295" y="630" width="1" height="86" fill="#c0c0c0"/>
<rect x="1303" y="637" width="1" height="79" fill="#c0c0c0"/>
<rect x="1311" y="646" width="1" height="70" fill="#c0c0c0"/>
<rect x="1319" y="653" width="1" height="63" fill="#c0c0c0"/>
<rect x="1327" y="656" width="1" height="60" fill="#c0c0c0"/>
<rect x="1335" y="658" width="1" height="58" fill="#c0c0c0"/>
<polyline points="7.5,737.3 15.5,739.3 23.4,739.5 31.5,739.5 39.5,739.3 47.4,738.3 55.5,737.3 63.5,736.3 71.4,734.6 79.5,733.0 87.6,731.0 95.4,729.8 103.5,728.6 111.6,727.4 119.4,726.2 127.5,725.2 135.6,724.4 143.4,726.0 151.5,727.6 159.6,728.6 167.4,730.0 175.5,731.0 183.6,732.0 191.4,733.4 199.5,733.4 207.6,733.2 215.5,731.0 223.5,728.0 231.6,724.6 239.5,719.9 247.5,714.1 255.6,708.4 263.5,702.8 271.5,697.3 279.6,692.7 287.5,688.2 295.5,686.8 303.6,684.6 311.5,684.4 319.5,684.8 327.6,686.2 335.5,687.2 343.6,690.3 351.5,691.9 359.5,693.3 367.4,695.3 375.5,696.9 383.5,698.7 391.4,701.4 399.5,704.4 407.5,706.4 415.4,708.8 423.5,711.4 431.6,712.5 439.4,713.5 447.5,714.1 455.6,715.1 463.4,715.3 471.5,715.3 479.6,714.5 487.4,713.5 495.5,712.5 503.6,711.4 511.4,709.8 519.5,708.0 527.6,706.0 535.4,702.8 543.5,699.3 551.6,695.3 559.5,690.9 567.5,686.8 575.6,683.8 583.5,679.6 591.5,677.6 599.6,676.5 607.5,675.3 615.5,676.1 623.6,677.8 631.5,680.2 639.5,682.2 647.6,684.6 655.5,687.2 663.5,690.3 671.6,691.7 679.5,692.9 687.6,694.3 695.5,695.5 703.5,695.3 711.4,695.1 719.5,694.3 727.5,694.3 735.4,693.5 743.5,693.5 751.5,693.5 759.4,693.5 767.5,694.5 775.6,695.3 783.4,695.5 791.5,696.5 799.6,696.5 807.4,696.3 815.5,695.3 823.6,693.9 831.4,691.3 839.5,689.3 847.6,687.2 855.4,685.8 863.5,685.4 871.6,685.4 879.4,685.4 887.5,686.2 895.6,688.2 903.5,690.7 911.5,691.7 919.6,694.7 927.5,698.7 935.5,703.0 943.6,707.4 951.5,711.0 959.5,714.5 967.6,717.1 975.5,720.1 983.5,721.5 991.6,723.1 999.5,723.1 1007.5,722.1 1015.6,720.5 1023.5,719.1 1031.6,717.1 1039.5,715.4 1047.5,713.2 1055.4,710.8 1063.5,709.4 1071.5,708.2 1079.4,707.2 1087.5,707.2 1095.5,706.4 1103.4,706.2 1111.5,705.1 1119.6,704.3 1127.4,703.9 1135.5,702.3 1143.6,701.3 1151.4,699.1 1159.5,696.3 1167.6,693.0 1175.4,691.0 1183.5,686.6 1191.6,681.5 1199.4,676.5 1207.5,670.5 1215.6,664.4 1223.4,657.9 1231.5,651.3 1239.6,646.2 1247.5,642.2 1255.5,638.2 1263.6,634.7 1271.5,632.1 1279.5,629.5 1287.6,628.5 1295.5,628.5 1303.5,628.5 1311.6,630.1 1319.5,633.7 1327.5,636.2 1335.6,639.6" fill="none" stroke="#ff0000" stroke-width="1" stroke-dasharray="3 3"/>
</g>
<g clip-path="url(#c3)" shape-rendering="crispEdges">
<line x1="8" y1="788.5" x2="1692" y2="788.5" stroke="#c0c0c0" stroke-dasharray="3 3"/>
<line x1="8" y1="838.5" x2="1692" y2="838.5" stroke="#c0c0c0" stroke-dasharray="3 3"/>
<polyline points="7.5,818.6 15.5,815.6 23.5,813.1 31.5,820.2 39.5,822.2 47.5,828.3 55.5,823.6 63.5,817.2 71.5,803.5 79.5,810.1 87.5,812.5 95.5,811.1 103.5,819.6 111.5,818.2 119.5,819.2 127.5,828.3 135.5,826.3 143.5,826.3 151.5,824.6 159.5,824.2 167.5,821.2 175.5,818.2 183.5,819.6 191.5,814.6 199.5,823.2 207.5,803.5 215.5,808.5 223.5,794.0 231.5,792.4 239.5,793.4 247.5,792.4 255.5,796.4 263.5,795.4 271.5,800.0 279.5,801.4 287.5,807.5 295.5,804.1 303.5,807.5 311.5,810.1 319.5,808.1 327.5,806.1 335.5,810.1 343.5,805.1 351.5,814.2 359.5,809.5 367.5,806.5 375.5,816.2 383.5,821.0 391.5,822.2 399.5,823.2 407.5,819.2 415.5,813.5 423.5,811.1 431.5,807.5 439.5,804.1 447.5,808.5 455.5,819.2 463.5,815.2 471.5,814.2 479.5,808.5 487.5,807.1 495.5,802.5 503.5,800.0 511.5,792.4 519.5,790.3 527.5,799.0 535.5,794.4 543.5,783.3 551.5,787.9 559.5,788.3 567.5,792.0 575.5,793.4 583.5,801.4 591.5,803.5 599.5,802.5 607.5,811.1 615.5,812.5 623.5,805.5 631.5,803.5 639.5,807.5 647.5,806.1 655.5,804.5 663.5,808.5 671.5,804.5 679.5,801.4 687.5,803.5 695.5,800.0 703.5,794.4 711.5,791.4 719.5,795.4 727.5,797.4 735.5,802.0 743.5,812.1 751.5,815.6 759.5,811.5 767.5,810.1 775.5,798.4 783.5,791.4 791.5,807.5 799.5,798.0 807.5,794.4 815.5,794.4 823.5,796.4 831.5,796.4 839.5,796.4 847.5,802.5 855.5,797.4 863.5,808.5 871.5,806.5 879.5,809.5 887.5,809.5 895.5,810.5 903.5,820.6 911.5,819.2 919.5,822.2 927.5,832.7 935.5,830.7 943.5,823.6 951.5,820.2 959.5,822.6 967.5,816.2 975.5,817.6 983.5,816.2 991.5,805.1 999.5,801.4 1007.5,804.5 1015.5,808.5 1023.5,802.5 1031.5,800.0 1039.5,799.0 1047.5,817.2 1055.5,808.5 1063.5,810.1 1071.5,810.1 1079.5,810.1 1087.5,804.5 1095.5,803.1 1103.5,798.4 1111.5,800.0 1119.5,803.5 1127.5,803.5 1135.5,794.4 1143.5,793.0 1151.5,786.3 1159.5,779.9 1167.5,776.2 1175.5,782.3 1183.5,780.3 1191.5,775.6 1199.5,775.2 1207.5,772.2 1215.5,769.2 1223.5,767.6 1231.5,782.3 1239.5,779.3 1247.5,783.3 1255.5,791.4 1263.5,786.9 1271.5,781.3 1279.5,781.3 1287.5,784.7 1295.5,794.0 1303.5,799.0 1311.5,807.5 1319.5,804.1 1327.5,800.4 1335.5,798.0" fill="none" stroke="#1e90ff" stroke-width="1"/>
</g>
<text x="1697.5" y="55" font-size="10.1" fill="#000" stroke="#000" stroke-width="0.12" text-anchor="start" textLength="29" lengthAdjust="spacingAndGlyphs">5664.0</text>
<text x="1697.5" y="88" font-size="10.1" fill="#000" stroke="#000" stroke-width="0.12" text-anchor="start" textLength="29" lengthAdjust="spacingAndGlyphs">5596.0</text>
<text x="1697.5" y="121" font-size="10.1" fill="#000" stroke="#000" stroke-width="0.12" text-anchor="start" textLength="29" lengthAdjust="spacingAndGlyphs">5528.0</text>
<text x="1697.5" y="154" font-size="10.1" fill="#000" stroke="#000" stroke-width="0.12" text-anchor="start" textLength="29" lengthAdjust="spacingAndGlyphs">5458.0</text>
<text x="1697.5" y="187" font-size="10.1" fill="#000" stroke="#000" stroke-width="0.12" text-anchor="start" textLength="29" lengthAdjust="spacingAndGlyphs">5390.0</text>
<text x="1697.5" y="220" font-size="10.1" fill="#000" stroke="#000" stroke-width="0.12" text-anchor="start" textLength="29" lengthAdjust="spacingAndGlyphs">5322.0</text>
<text x="1697.5" y="253" font-size="10.1" fill="#000" stroke="#000" stroke-width="0.12" text-anchor="start" textLength="29" lengthAdjust="spacingAndGlyphs">5254.0</text>
<text x="1697.5" y="286" font-size="10.1" fill="#000" stroke="#000" stroke-width="0.12" text-anchor="start" textLength="29" lengthAdjust="spacingAndGlyphs">5186.0</text>
<text x="1697.5" y="319" font-size="10.1" fill="#000" stroke="#000" stroke-width="0.12" text-anchor="start" textLength="29" lengthAdjust="spacingAndGlyphs">5116.0</text>
<text x="1697.5" y="352" font-size="10.1" fill="#000" stroke="#000" stroke-width="0.12" text-anchor="start" textLength="29" lengthAdjust="spacingAndGlyphs">5048.0</text>
<text x="1697.5" y="385" font-size="10.1" fill="#000" stroke="#000" stroke-width="0.12" text-anchor="start" textLength="29" lengthAdjust="spacingAndGlyphs">4980.0</text>
<text x="1697.5" y="418" font-size="10.1" fill="#000" stroke="#000" stroke-width="0.12" text-anchor="start" textLength="29" lengthAdjust="spacingAndGlyphs">4912.0</text>
<text x="1697.5" y="451" font-size="10.1" fill="#000" stroke="#000" stroke-width="0.12" text-anchor="start" textLength="29" lengthAdjust="spacingAndGlyphs">4844.0</text>
<text x="1697.5" y="484" font-size="10.1" fill="#000" stroke="#000" stroke-width="0.12" text-anchor="start" textLength="29" lengthAdjust="spacingAndGlyphs">4774.0</text>
<text x="1697.5" y="517" font-size="10.1" fill="#000" stroke="#000" stroke-width="0.12" text-anchor="start" textLength="29" lengthAdjust="spacingAndGlyphs">4706.0</text>
<text x="1697.5" y="550" font-size="10.1" fill="#000" stroke="#000" stroke-width="0.12" text-anchor="start" textLength="29" lengthAdjust="spacingAndGlyphs">4638.0</text>
<text x="1697.5" y="583" font-size="10.1" fill="#000" stroke="#000" stroke-width="0.12" text-anchor="start" textLength="29" lengthAdjust="spacingAndGlyphs">4570.0</text>
<text x="1697.5" y="616" font-size="10.1" fill="#000" stroke="#000" stroke-width="0.12" text-anchor="start" textLength="29" lengthAdjust="spacingAndGlyphs">4502.0</text>
<text x="1697.5" y="133" font-size="10.1" fill="#fff" stroke="#fff" stroke-width="0.12" text-anchor="start" textLength="29" lengthAdjust="spacingAndGlyphs">5500.0</text>
<text x="1697.5" y="208" font-size="10.1" fill="#fff" stroke="#fff" stroke-width="0.12" text-anchor="start" textLength="29" lengthAdjust="spacingAndGlyphs">5345.0</text>
<text x="1697.5" y="336" font-size="10.1" fill="#fff" stroke="#fff" stroke-width="0.12" text-anchor="start" textLength="29" lengthAdjust="spacingAndGlyphs">5080.0</text>
<text x="1696" y="628" font-size="10.1" fill="#000" stroke="#000" stroke-width="0.12" text-anchor="start" textLength="29" lengthAdjust="spacingAndGlyphs">135.06</text>
<text x="1696" y="719" font-size="10.1" fill="#000" stroke="#000" stroke-width="0.12" text-anchor="start" textLength="18.5" lengthAdjust="spacingAndGlyphs">0.00</text>
<text x="1696" y="743" font-size="10.1" fill="#000" stroke="#000" stroke-width="0.12" text-anchor="start" textLength="26.5" lengthAdjust="spacingAndGlyphs">-43.02</text>
<text x="1696" y="759" font-size="10.1" fill="#000" stroke="#000" stroke-width="0.12" text-anchor="start" textLength="15.5" lengthAdjust="spacingAndGlyphs">100</text>
<text x="1695" y="792" font-size="10.1" fill="#000" stroke="#000" stroke-width="0.12" text-anchor="start" textLength="10.5" lengthAdjust="spacingAndGlyphs">70</text>
<text x="1695" y="842" font-size="10.1" fill="#000" stroke="#000" stroke-width="0.12" text-anchor="start" textLength="10.5" lengthAdjust="spacingAndGlyphs">30</text>
<text x="1696" y="874" font-size="10.1" fill="#000" stroke="#000" stroke-width="0.12" text-anchor="start" textLength="5.3" lengthAdjust="spacingAndGlyphs">0</text>
<text x="6.6" y="890" font-size="10.1" fill="#000" stroke="#000" stroke-width="0.12" text-anchor="start" textLength="52.3" lengthAdjust="spacingAndGlyphs">14 Sep 2020</text>
<text x="70.6" y="890" font-size="10.1" fill="#000" stroke="#000" stroke-width="0.12" text-anchor="start" textLength="54.8" lengthAdjust="spacingAndGlyphs">18 Sep 05:00</text>
<text x="134.6" y="890" font-size="10.1" fill="#000" stroke="#000" stroke-width="0.12" text-anchor="start" textLength="54.8" lengthAdjust="spacingAndGlyphs">24 Sep 05:00</text>
<text x="198.6" y="890" font-size="10.1" fill="#000" stroke="#000" stroke-width="0.12" text-anchor="start" textLength="54.8" lengthAdjust="spacingAndGlyphs">30 Sep 05:00</text>
<text x="262.6" y="890" font-size="10.1" fill="#000" stroke="#000" stroke-width="0.12" text-anchor="start" textLength="52.8" lengthAdjust="spacingAndGlyphs">14 Oct 05:00</text>
<text x="326.6" y="890" font-size="10.1" fill="#000" stroke="#000" stroke-width="0.12" text-anchor="start" textLength="52.8" lengthAdjust="spacingAndGlyphs">20 Oct 05:00</text>
<text x="390.6" y="890" font-size="10.1" fill="#000" stroke="#000" stroke-width="0.12" text-anchor="start" textLength="52.8" lengthAdjust="spacingAndGlyphs">26 Oct 05:00</text>
<text x="454.6" y="890" font-size="10.1" fill="#000" stroke="#000" stroke-width="0.12" text-anchor="start" textLength="52.8" lengthAdjust="spacingAndGlyphs">30 Oct 05:00</text>
<text x="518.6" y="890" font-size="10.1" fill="#000" stroke="#000" stroke-width="0.12" text-anchor="start" textLength="49.7" lengthAdjust="spacingAndGlyphs">5 Nov 05:00</text>
<text x="582.6" y="890" font-size="10.1" fill="#000" stroke="#000" stroke-width="0.12" text-anchor="start" textLength="54.8" lengthAdjust="spacingAndGlyphs">11 Nov 05:00</text>
<text x="646.6" y="890" font-size="10.1" fill="#000" stroke="#000" stroke-width="0.12" text-anchor="start" textLength="54.8" lengthAdjust="spacingAndGlyphs">17 Nov 05:00</text>
<text x="710.6" y="890" font-size="10.1" fill="#000" stroke="#000" stroke-width="0.12" text-anchor="start" textLength="54.8" lengthAdjust="spacingAndGlyphs">23 Nov 05:00</text>
<text x="774.6" y="890" font-size="10.1" fill="#000" stroke="#000" stroke-width="0.12" text-anchor="start" textLength="54.8" lengthAdjust="spacingAndGlyphs">27 Nov 05:00</text>
<text x="838.6" y="890" font-size="10.1" fill="#000" stroke="#000" stroke-width="0.12" text-anchor="start" textLength="49.7" lengthAdjust="spacingAndGlyphs">3 Dec 05:00</text>
<text x="902.6" y="890" font-size="10.1" fill="#000" stroke="#000" stroke-width="0.12" text-anchor="start" textLength="49.7" lengthAdjust="spacingAndGlyphs">9 Dec 05:00</text>
<text x="966.6" y="890" font-size="10.1" fill="#000" stroke="#000" stroke-width="0.12" text-anchor="start" textLength="54.8" lengthAdjust="spacingAndGlyphs">15 Dec 05:00</text>
<text x="1030.6" y="890" font-size="10.1" fill="#000" stroke="#000" stroke-width="0.12" text-anchor="start" textLength="54.8" lengthAdjust="spacingAndGlyphs">21 Dec 05:00</text>
<text x="1094.6" y="890" font-size="10.1" fill="#000" stroke="#000" stroke-width="0.12" text-anchor="start" textLength="54.8" lengthAdjust="spacingAndGlyphs">25 Dec 05:00</text>
<text x="1158.6" y="890" font-size="10.1" fill="#000" stroke="#000" stroke-width="0.12" text-anchor="start" textLength="54.8" lengthAdjust="spacingAndGlyphs">31 Dec 05:00</text>
<text x="1222.6" y="890" font-size="10.1" fill="#000" stroke="#000" stroke-width="0.12" text-anchor="start" textLength="48.2" lengthAdjust="spacingAndGlyphs">7 Jan 05:00</text>
<text x="1286.6" y="890" font-size="10.1" fill="#000" stroke="#000" stroke-width="0.12" text-anchor="start" textLength="53.3" lengthAdjust="spacingAndGlyphs">13 Jan 05:00</text>
<text x="22" y="46" font-size="10.1" fill="#000" stroke="#000" stroke-width="0.12" text-anchor="start" textLength="65.3" lengthAdjust="spacingAndGlyphs">CHINA300-,H4</text>
<text x="92.5" y="46" font-size="10.1" fill="#000" stroke="#000" stroke-width="0.12" text-anchor="start" textLength="28.3" lengthAdjust="spacingAndGlyphs">5494.8</text>
<text x="124.1" y="46" font-size="10.1" fill="#000" stroke="#000" stroke-width="0.12" text-anchor="start" textLength="28.2" lengthAdjust="spacingAndGlyphs">5544.1</text>
<text x="155.2" y="46" font-size="10.1" fill="#000" stroke="#000" stroke-width="0.12" text-anchor="start" textLength="28.5" lengthAdjust="spacingAndGlyphs">5489.3</text>
<text x="185.9" y="46" font-size="10.1" fill="#000" stroke="#000" stroke-width="0.12" text-anchor="start" textLength="28.5" lengthAdjust="spacingAndGlyphs">5508.0</text>
<path d="M10 41h7l-3.5 4z" fill="#000"/>
<text x="11" y="630" font-size="10.1" fill="#000" stroke="#000" stroke-width="0.12" text-anchor="start" textLength="123" lengthAdjust="spacingAndGlyphs">MACD(12,26,9) 80.44 106.59</text>
<text x="11" y="761" font-size="10.1" fill="#000" stroke="#000" stroke-width="0.12" text-anchor="start" textLength="68" lengthAdjust="spacingAndGlyphs">RSI(14) 61.5596</text>
<text x="1396.5" y="282" font-size="37.5" fill="#ea151d" text-anchor="start" textLength="262" lengthAdjust="spacingAndGlyphs" style="font-family:'Liberation Sans','Noto Sans CJK SC',sans-serif">多空转折点5500</text>
</svg></body></html>
